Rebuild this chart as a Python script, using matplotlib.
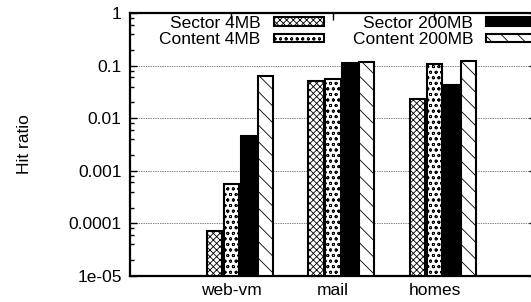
import matplotlib
matplotlib.use("Agg")
import matplotlib.pyplot as plt
import numpy as np
from matplotlib.ticker import LogLocator, FixedLocator, FixedFormatter

plt.rcParams['font.family'] = ['Liberation Sans', 'DejaVu Sans']
plt.rcParams['hatch.linewidth'] = 0.6

traces = ["web-vm", "mail", "homes"]
series = ["Sector 4MB", "Content 4MB", "Sector 200MB", "Content 200MB"]
sector_4mb = [6.3e-5, 0.052, 0.023]
content_4mb = [5.5e-4, 0.056, 0.107]
sector_200mb = [4.5e-3, 0.11, 0.042]
content_200mb = [0.063, 0.119, 0.124]
values = [sector_4mb, content_4mb, sector_200mb, content_200mb]

hatches = ["xxxxx", "ooo", "", "\\\\"]
faces = ["white", "white", "black", "white"]

fig = plt.figure(figsize=(5.31, 3.02), dpi=100)
ax = fig.add_axes([130 / 531, 26 / 302, 406 / 531, 263 / 302])

x = np.arange(len(traces))
w = 1 / 6.0
for j, (name, vals) in enumerate(zip(series, values)):
    ax.bar(x + (j - 1) * w, vals, width=w * 0.9, bottom=1e-5,
           color=faces[j], edgecolor="black", linewidth=1.5,
           hatch=hatches[j], label=name, zorder=3)

ax.set_yscale("log")
ax.set_ylim(1e-5, 1)
ax.set_xlim(-1, 3)

yticks = [1e-5, 1e-4, 1e-3, 1e-2, 1e-1, 1]
ylabels = ["1e-05", "0.0001", "0.001", "0.01", "0.1", "1"]
ax.yaxis.set_major_locator(FixedLocator(yticks))
ax.yaxis.set_major_formatter(FixedFormatter(ylabels))
ax.yaxis.set_minor_locator(LogLocator(base=10, subs=[2, 4, 6, 8]))
ax.yaxis.set_minor_formatter(FixedFormatter([]))

ax.set_xticks(x)
ax.set_xticklabels(traces)

ax.tick_params(axis="both", which="both", direction="in", top=True, right=True,
               labelsize=12.5, width=1, pad=6)
ax.tick_params(axis="y", which="major", length=5)
ax.tick_params(axis="y", which="minor", length=3)
ax.tick_params(axis="x", which="major", length=5, pad=5)

for s in ax.spines.values():
    s.set_linewidth(1.6)

ax.grid(axis="y", which="major", linestyle=(0, (1, 1.5)), color="black",
        linewidth=0.5, zorder=0)
ax.set_axisbelow(True)

ax.set_ylabel("Hit ratio", fontsize=12.5, labelpad=26)

ax.legend(ncol=2, markerfirst=False, frameon=False, fontsize=12.5,
          loc="upper left", bbox_to_anchor=(0.047, 1.03),
          handlelength=2.9, handleheight=0.4, handletextpad=0.75,
          columnspacing=1.65, labelspacing=0.1, borderaxespad=0.2)

fig.savefig("out.png", dpi=100)
